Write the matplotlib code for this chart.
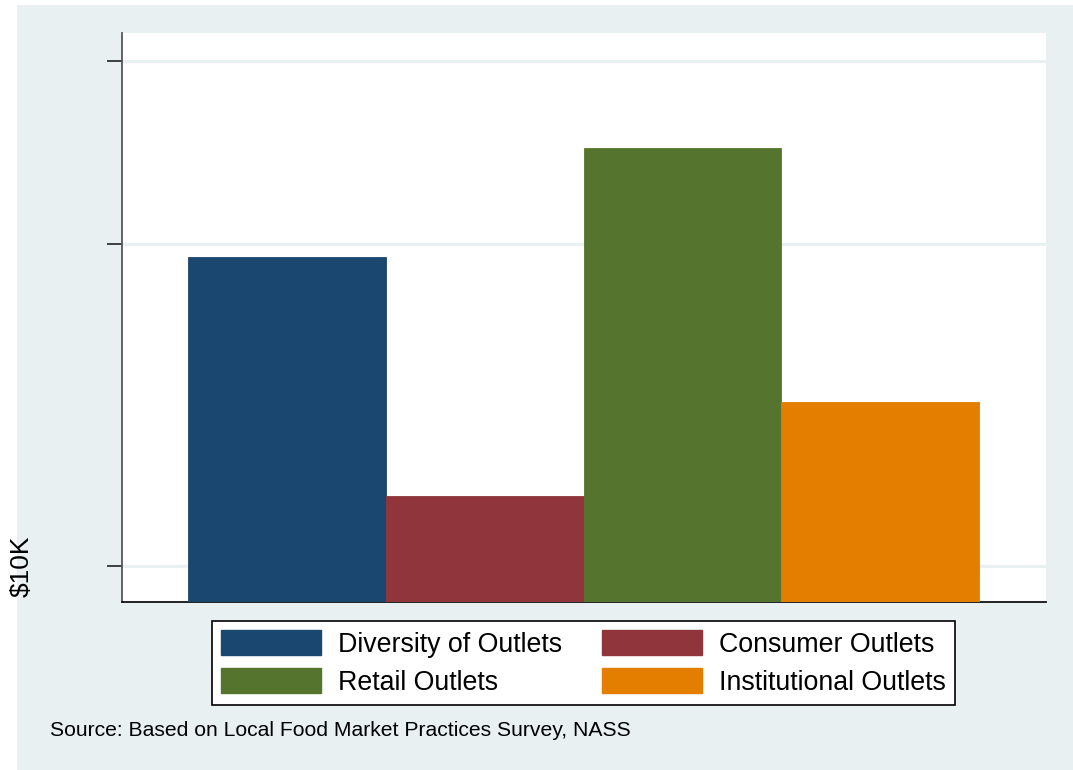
import numpy as np
import matplotlib
matplotlib.use('Agg')
import matplotlib.pyplot as plt
from matplotlib.patches import Rectangle, Patch

# values in $10K (tick labels are not legible in the source)
categories = ['Diversity of Outlets', 'Consumer Outlets', 'Retail Outlets', 'Institutional Outlets']
values     = [18.8, 5.68, 32.4, 9.08]
colors     = ['#1a476f', '#90353b', '#55752f', '#e37e00']
yticks     = [4, 20, 50]

BG = '#e8f0f2'
plt.rcParams['font.family'] = ['Liberation Sans', 'DejaVu Sans']

fig = plt.figure(figsize=(10.73, 7.70), dpi=100)
fig.patch.set_facecolor('white')
# graph region (light blue-grey), inset a little from the left/top edge
fig.patches.append(Rectangle((17 / 1073, 0), 1 - 17 / 1073, 1 - 5 / 770,
                             transform=fig.transFigure, facecolor=BG,
                             edgecolor='none', zorder=-10))

ax = fig.add_axes([122 / 1073, 1 - 602 / 770, (1046 - 122) / 1073, (602 - 33) / 770])
ax.set_facecolor('white')

x = np.arange(len(categories))
ax.bar(x, values, width=1.0, color=colors, edgecolor=colors,
       linewidth=0.6, zorder=3)

ax.set_yscale('log')
ax.set_ylim(3.34, 57.5)
ax.set_xlim(-0.835, 3.84)
ax.set_yticks(yticks)
ax.set_yticklabels([''] * len(yticks))
ax.yaxis.set_minor_locator(matplotlib.ticker.NullLocator())
ax.set_xticks([])
ax.grid(axis='y', color=BG, lw=2.2, zorder=0)
ax.tick_params(axis='y', length=11, width=1.2, color='#222222', direction='out')

for s in ['top', 'right']:
    ax.spines[s].set_visible(False)
ax.spines['left'].set_color('#555555')
ax.spines['left'].set_linewidth(1.3)
ax.spines['bottom'].set_color('#111111')
ax.spines['bottom'].set_linewidth(1.3)

fig.text(22 / 1073, 1 - 597 / 770, '$10K', rotation=90, ha='center', va='bottom',
         fontsize=19)

# legend: rows Diversity|Consumer, Retail|Institutional (matplotlib fills by column)
order = [0, 2, 1, 3]
handles = [Patch(facecolor=colors[i], edgecolor=colors[i]) for i in order]
labels = [categories[i] for i in order]
leg = fig.legend(handles, labels, ncol=2, loc='center',
                 bbox_to_anchor=(583.5 / 1073, 1 - 663 / 770),
                 fontsize=19.3, frameon=True, fancybox=False, framealpha=1,
                 handlelength=3.73, handleheight=1.04, handletextpad=0.63,
                 columnspacing=1.49, labelspacing=0.38, borderpad=0.36)
leg.get_frame().set_edgecolor('black')
leg.get_frame().set_linewidth(1.2)
leg.get_frame().set_facecolor('white')

fig.text(50 / 1073, 1 - 731 / 770, 'Source: Based on Local Food Market Practices Survey, NASS',
         ha='left', va='center', fontsize=15.2)

fig.savefig('out.png', dpi=100)
plt.close()
